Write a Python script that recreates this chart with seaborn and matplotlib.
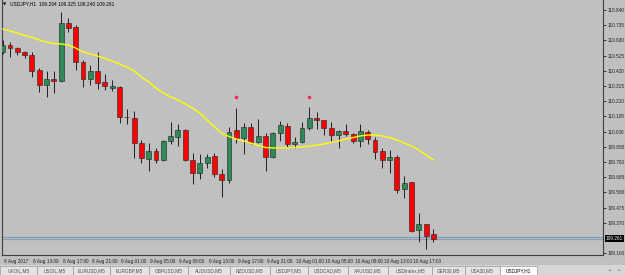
import numpy as np
import pandas as pd
import matplotlib
matplotlib.use("Agg")
import matplotlib.pyplot as plt
import matplotlib.transforms as mtransforms
from matplotlib.patches import Rectangle
import seaborn as sns

# ---- data (USDJPY, H1 candles, 8 Aug 09:00 .. 10 Aug 20:00) ----
opens = [110.550, 110.598, 110.577, 110.550, 110.529, 110.425, 110.322, 110.363, 110.350, 110.750,
         110.723, 110.481, 110.363, 110.419, 110.343, 110.301, 110.308, 110.101, 110.094, 109.921,
         109.810, 109.866, 109.804, 109.935, 109.963, 110.011, 109.804, 109.714, 109.783, 109.831,
         109.707, 109.666, 110.011, 109.956, 110.032, 109.928, 109.970, 109.824, 109.990, 110.039,
         109.914, 109.928, 110.025, 110.094, 110.080, 110.025, 109.976, 110.004, 109.983, 109.935,
         109.997, 109.942, 109.866, 109.804, 109.824, 109.603, 109.652, 109.320, 109.362, 109.294]
highs = [110.633, 110.619, 110.584, 110.557, 110.550, 110.439, 110.419, 110.419, 110.826, 110.785,
         110.736, 110.495, 110.460, 110.550, 110.398, 110.356, 110.315, 110.156, 110.142, 109.942,
         109.921, 109.887, 109.942, 110.066, 110.052, 110.018, 109.852, 109.845, 109.845, 109.852,
         109.741, 110.032, 110.163, 110.059, 110.059, 110.087, 109.990, 109.997, 110.073, 110.059,
         109.963, 110.066, 110.170, 110.135, 110.080, 110.066, 110.011, 110.052, 109.990, 110.052,
         110.011, 109.963, 109.887, 109.873, 109.838, 109.693, 109.652, 109.438, 109.362, 109.325]
lows = [110.536, 110.515, 110.529, 110.508, 110.377, 110.274, 110.239, 110.267, 110.343, 110.688,
        110.425, 110.308, 110.322, 110.294, 110.287, 110.280, 110.059, 110.052, 109.817, 109.783,
        109.727, 109.783, 109.797, 109.914, 109.900, 109.797, 109.638, 109.672, 109.748, 109.686,
        109.548, 109.645, 109.921, 109.845, 109.914, 109.921, 109.727, 109.817, 109.935, 109.894,
        109.887, 109.921, 110.011, 110.018, 109.976, 109.935, 109.887, 109.970, 109.921, 109.894,
        109.914, 109.810, 109.748, 109.714, 109.576, 109.541, 109.306, 109.237, 109.189, 109.240]
closes = [110.598, 110.577, 110.550, 110.529, 110.419, 110.322, 110.363, 110.350, 110.750, 110.716,
          110.481, 110.363, 110.419, 110.336, 110.315, 110.315, 110.101, 110.098, 109.921, 109.817,
          109.866, 109.804, 109.935, 109.970, 110.011, 109.804, 109.714, 109.783, 109.824, 109.707,
          109.666, 109.997, 109.956, 110.032, 109.928, 109.970, 109.824, 109.990, 110.046, 109.914,
          109.928, 110.025, 110.094, 110.080, 110.025, 109.976, 110.004, 109.983, 109.935, 110.004,
          109.949, 109.859, 109.804, 109.824, 109.596, 109.645, 109.313, 109.362, 109.279, 109.261]
ma_values = [110.709, 110.695, 110.681, 110.664, 110.650, 110.633, 110.619, 110.608, 110.605, 110.598,
             110.577, 110.550, 110.536, 110.522, 110.505, 110.488, 110.467, 110.446, 110.419, 110.377,
             110.343, 110.301, 110.267, 110.239, 110.218, 110.191, 110.163, 110.128, 110.080, 110.032,
             109.990, 109.966, 109.949, 109.935, 109.921, 109.904, 109.890, 109.887, 109.887, 109.887,
             109.890, 109.894, 109.900, 109.907, 109.914, 109.925, 109.935, 109.949, 109.959, 109.970,
             109.976, 109.976, 109.970, 109.959, 109.942, 109.921, 109.900, 109.873, 109.838, 109.804]
fractal_idx = [32, 42]
fractal_price = [110.239, 110.239]
bid_price = 109.261
ask_price = 109.272
x_tick_idx = [0, 4, 8, 12, 16, 20, 24, 28, 32, 36, 40, 44, 48, 52, 56]
x_tick_labels = ["8 Aug 2017", "8 Aug 13:00", "8 Aug 17:00", "8 Aug 21:00", "9 Aug 01:00",
                 "9 Aug 05:00", "9 Aug 09:00", "9 Aug 13:00", "9 Aug 17:00", "9 Aug 21:00",
                 "10 Aug 01:00", "10 Aug 05:00", "10 Aug 09:00", "10 Aug 13:00", "10 Aug 17:00"]
y_ticks = [110.840, 110.735, 110.630, 110.525, 110.420, 110.315, 110.210, 110.105, 110.000,
           109.895, 109.790, 109.685, 109.580, 109.475, 109.370, 109.160]
tabs = ["UKOIL,M5", "USOIL,M5", "EURUSD,M5", "EURGBP,M5", "GBPUSD,M5", "AUDUSD,M5", "NZDUSD,M5",
        "USDJPY,M5", "USDCAD,M5", "XAUUSD,M5", "USDIndex,M5", "GER30,M5", "USA30,M5", "USDJPY,H1"]
tab_edges = [0, 37, 73, 110, 149, 188, 230, 270, 308, 348, 388, 432, 465, 500, 537]
header = "USDJPY,H1  109.294 109.325 109.240 109.261"

# ---- style ----
sns.set_style("white")
plt.rcParams['font.family'] = ['Liberation Sans', 'DejaVu Sans']
BG = '#c0c0c0'
UP = '#2e8b57'
DOWN = '#ff0000'

df = pd.DataFrame({"idx": np.arange(len(opens)), "open": opens, "high": highs,
                   "low": lows, "close": closes, "ma": ma_values})
df["up"] = df["close"] >= df["open"]
df["bottom"] = df[["open", "close"]].min(axis=1)
df["height"] = (df["close"] - df["open"]).abs().clip(lower=0.003)

W, H = 625, 275
fig = plt.figure(figsize=(W / 100, H / 100), dpi=100)
fig.patch.set_facecolor(BG)
ax = fig.add_axes([2 / W, 20 / H, 601 / W, 255 / H])
ax.set_facecolor(BG)

# wicks
ax.vlines(df["idx"], df["low"], df["high"], color='#202020', lw=0.7, zorder=2)
# bodies
ax.bar(df["idx"], df["height"], bottom=df["bottom"], width=0.68,
       color=[UP if u else DOWN for u in df["up"]], edgecolor='#202020', linewidth=0.4, zorder=3)
# moving average
sns.lineplot(data=df, x="idx", y="ma", ax=ax, color='#ffff00', linewidth=1.0, zorder=4)
# fractal markers
sns.scatterplot(x=fractal_idx, y=fractal_price, ax=ax, color='#e8305a', s=7, linewidth=0, zorder=5)
# ask / bid lines
ax.axhline(ask_price, color='#6a9fd8', lw=0.8, zorder=1)
ax.axhline(bid_price, color='#9a9a9a', lw=0.9, zorder=1)

ax.set_xlim(-0.096, 82.23)
ax.set_ylim(109.1475, 110.909)
ax.set_xlabel("")
ax.set_ylabel("")

# axes
for s in ["left", "right", "bottom"]:
    ax.spines[s].set_visible(True)
    ax.spines[s].set_color('#404040')
    ax.spines[s].set_linewidth(0.8)
ax.spines["top"].set_visible(False)

ax.yaxis.tick_right()
ax.set_yticks(y_ticks)
ax.set_yticklabels([f"{v:.3f}" for v in y_ticks])
ax.tick_params(axis='y', direction='out', length=2, width=0.6, colors='#202020',
               labelsize=3.4, pad=1.5, left=False, right=True)
ax.set_xticks(x_tick_idx)
ax.set_xticklabels(x_tick_labels, ha='left')
ax.tick_params(axis='x', direction='out', length=2, width=0.6, colors='#202020',
               labelsize=3.4, pad=0.8)
shift = mtransforms.ScaledTranslation(1.5 / 100, 0, fig.dpi_scale_trans)
for lbl in ax.get_xticklabels():
    lbl.set_transform(lbl.get_transform() + shift)

# current price label
trans = mtransforms.blended_transform_factory(ax.transAxes, ax.transData)
ax.text(1.0 + 3 / 601, bid_price, f"{bid_price:.3f}", transform=trans, ha='left', va='center',
        fontsize=3.4, color='white', zorder=6,
        bbox=dict(boxstyle='square,pad=0.25', fc='black', ec='none'))

# header
fig.text(3 / W, 1 - 4 / H, "\u25BC", fontsize=3, color='black', ha='left', va='center',
         family=['DejaVu Sans'])
fig.text(10 / W, 1 - 4 / H, header, fontsize=3.5, color='black', ha='left', va='center')

# tab strip
fig.patches.append(Rectangle((0, 0), 1, 10 / H, transform=fig.transFigure,
                             fc='#d6d6d6', ec='none', zorder=0))
for i, name in enumerate(tabs):
    x0, x1 = tab_edges[i], tab_edges[i + 1]
    active = i == len(tabs) - 1
    fig.patches.append(Rectangle((x0 / W, 0), (x1 - x0) / W, 9 / H, transform=fig.transFigure,
                                 fc='white' if active else '#e4e4e4', ec='#9a9a9a', lw=0.5))
    fig.text((x0 + x1) / 2 / W, 4.5 / H, name, fontsize=3.4,
             color='black' if active else '#505050', ha='center', va='center')
fig.text(609 / W, 4.5 / H, "\u25C4", fontsize=2.5, color='#707070', ha='center', va='center',
         family=['DejaVu Sans'])
fig.text(619 / W, 4.5 / H, "\u25BA", fontsize=2.5, color='#707070', ha='center', va='center',
         family=['DejaVu Sans'])

fig.savefig("out.png", dpi=100, facecolor=BG)
